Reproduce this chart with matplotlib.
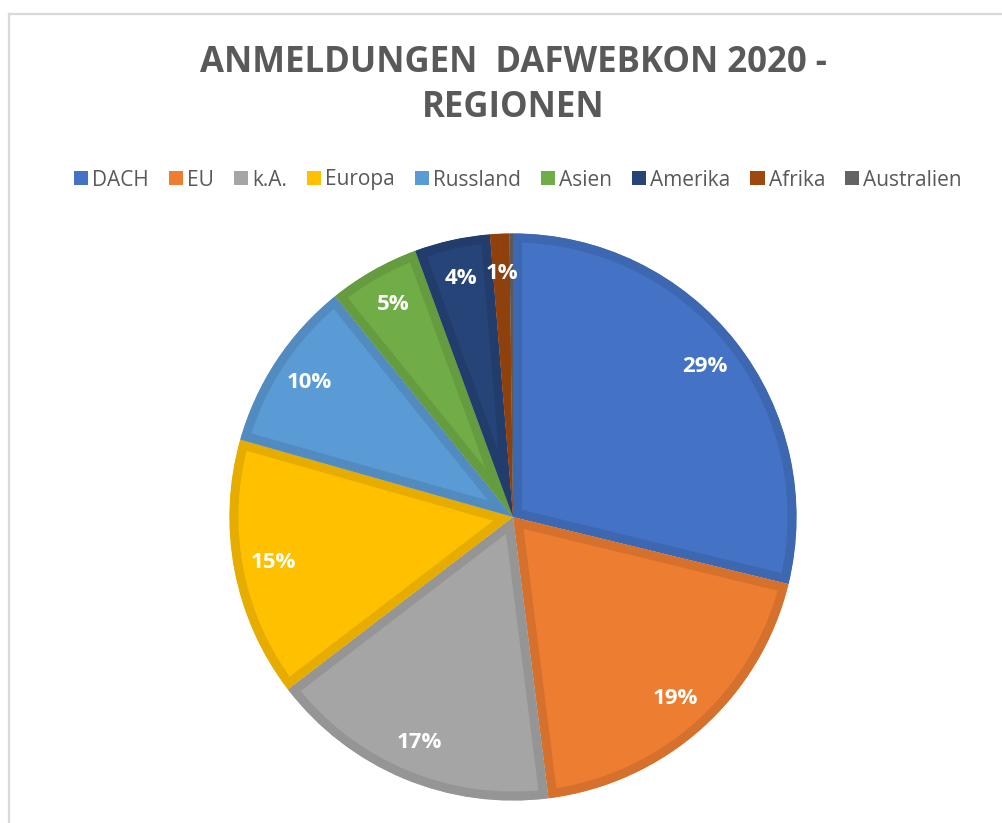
import matplotlib
matplotlib.use("Agg")
import matplotlib.pyplot as plt
from matplotlib.patches import Patch
from matplotlib.lines import Line2D
from matplotlib.colors import to_rgb

# DATEN
regionen = ["DACH", "EU", "k.A.", "Europa", "Russland", "Asien", "Amerika", "Afrika", "Australien"]
anmeldungen = [288, 192, 166, 148, 98, 52, 43, 11, 2]
farben = ["#4472C4", "#ED7D31", "#A5A5A5", "#FFC000", "#5B9BD5",
          "#70AD47", "#264478", "#9E480E", "#636363"]

TEXT_GRAU = "#595959"
plt.rcParams["font.family"] = ["Open Sans", "DejaVu Sans"]


def dunkler(c, f=0.9):
    r, g, b = to_rgb(c)
    return (r * f, g * f, b * f)


def pct_label(p):
    return f"{p:.0f}%" if p >= 0.5 else ""


fig = plt.figure(figsize=(10.02, 8.23), dpi=100)

# Rahmen des Diagrammbereichs (nur links und oben sichtbar)
fig.add_artist(Line2D([9 / 1002, 1], [1 - 14 / 823, 1 - 14 / 823], color="#D9D9D9", lw=1.6,
                      transform=fig.transFigure))
fig.add_artist(Line2D([9 / 1002, 9 / 1002], [0, 1 - 14 / 823], color="#D9D9D9", lw=1.6,
                      transform=fig.transFigure))

# Titel
fig.text(0.512, 1 - 63 / 823, "ANMELDUNGEN  DAFWEBKON 2020 -", ha="center", va="center",
         fontsize=25, fontweight="bold", color=TEXT_GRAU)
fig.text(0.512, 1 - 108 / 823, "REGIONEN", ha="center", va="center",
         fontsize=25, fontweight="bold", color=TEXT_GRAU)

# Tortendiagramm
ax = fig.add_axes([228 / 1002, 21 / 823, 570 / 1002, 570 / 823])
wedges, texts, autotexts = ax.pie(
    anmeldungen, colors=farben, startangle=90, counterclock=False,
    autopct=pct_label, pctdistance=0.86, radius=1,
    textprops=dict(color="white", fontsize=16, fontweight="bold"),
)
for w, c in zip(wedges, farben):
    w.set_edgecolor(dunkler(c))
    w.set_linewidth(13)
    w.set_clip_on(True)
    w.set_clip_path(w)
ax.set_xlim(-1.005, 1.005)
ax.set_ylim(-1.005, 1.005)
ax.set_aspect("equal")
ax.axis("off")

# Legende
handles = [Patch(facecolor=c, edgecolor="none", label=r) for r, c in zip(regionen, farben)]
fig.legend(handles=handles, loc="center", bbox_to_anchor=(0.517, 1 - 180 / 823), ncol=9,
           frameon=False, fontsize=15, labelcolor=TEXT_GRAU,
           handlelength=0.68, handleheight=0.68, handletextpad=0.2, columnspacing=0.95)

fig.savefig("out.png", dpi=100)
